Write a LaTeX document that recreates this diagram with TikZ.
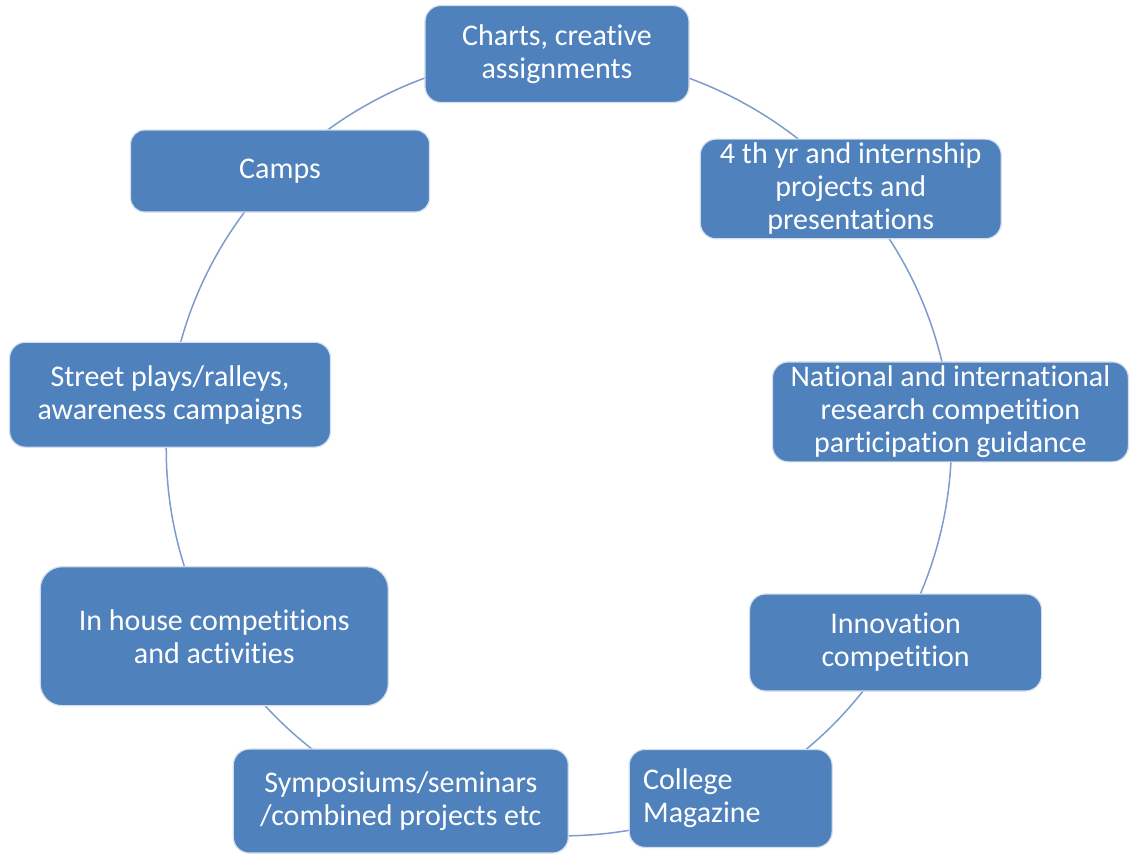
\documentclass[tikz,border=0pt]{standalone}
\usepackage{fontspec}
\setmainfont[Ligatures=NoCommon]{Carlito}
\usetikzlibrary{backgrounds}
\definecolor{boxblue}{RGB}{79,129,189}
\definecolor{ringblue}{RGB}{125,155,205}

\begin{document}
\begin{tikzpicture}[x=0.5pt,y=0.5pt,
  activity/.style={rectangle, rounded corners=8pt, fill=boxblue, draw=white!75!boxblue,
    line width=0.6pt, text=white, align=center, inner sep=2pt,
    font=\fontsize{15}{16.5}\selectfont},
  ringline/.style={draw=ringblue, line width=0.75pt, looseness=0.88}]
  \useasboundingbox (-557,-406) rectangle (573,447) ;

  % Nodes
  \node[activity, minimum width=132pt, minimum height=48.5pt] (charts) at (90:393) {Charts, creative\\assignments} ; %
  \node[activity, minimum width=150.5pt, minimum height=49pt] (proj) at (41.3:391) {4 th yr and internship\\projects and\\presentations} ; %
  \node[activity, minimum width=178pt, minimum height=49pt] (natl) at (5.1:395) {National and international\\research competition\\participation guidance} ; %
  \node[activity, minimum width=146pt, minimum height=48.5pt] (innov) at (-30:391) {Innovation\\competition} ; %
  \node[activity, minimum height=49pt, text width=87.5pt, align=left, inner xsep=7pt] (mag) at (-63.7:392) {College\\Magazine} ; %
  \node[activity, minimum width=167.5pt, minimum height=52pt] (symp) at (-113.8:387) {Symposiums/seminars\\/combined projects etc} ; %
  \node[activity, minimum width=174pt, minimum height=69.5pt, rounded corners=11pt] (inhouse) at (-151.1:391.5) {In house competitions\\and activities} ; %
  \node[activity, minimum width=160.5pt, minimum height=52.5pt] (street) at (172.3:390.5) {Street plays/ralleys,\\awareness campaigns} ; %
  \node[activity, minimum width=149.5pt, minimum height=41pt, rounded corners=7pt] (camps) at (135.1:391) {Camps} ; %

  % Connect the nodes
  \begin{scope}[on background layer]
    \draw[ringline] (charts.center) to[bend left=24.35] (proj.center) ; %
    \draw[ringline] (proj.center) to[bend left=18.1] (natl.center) ; %
    \draw[ringline] (natl.center) to[bend left=17.55] (innov.center) ; %
    \draw[ringline] (innov.center) to[bend left=16.85] (mag.center) ; %
    \draw[ringline] (mag.center) to[bend left=25.05] (symp.center) ; %
    \draw[ringline] (symp.center) to[bend left=18.65] (inhouse.center) ; %
    \draw[ringline] (inhouse.center) to[bend left=18.3] (street.center) ; %
    \draw[ringline] (street.center) to[bend left=18.6] (camps.center) ; %
    \draw[ringline] (camps.center) to[bend left=22.55] (charts.center) ; %
  \end{scope}
\end{tikzpicture}
\end{document}
